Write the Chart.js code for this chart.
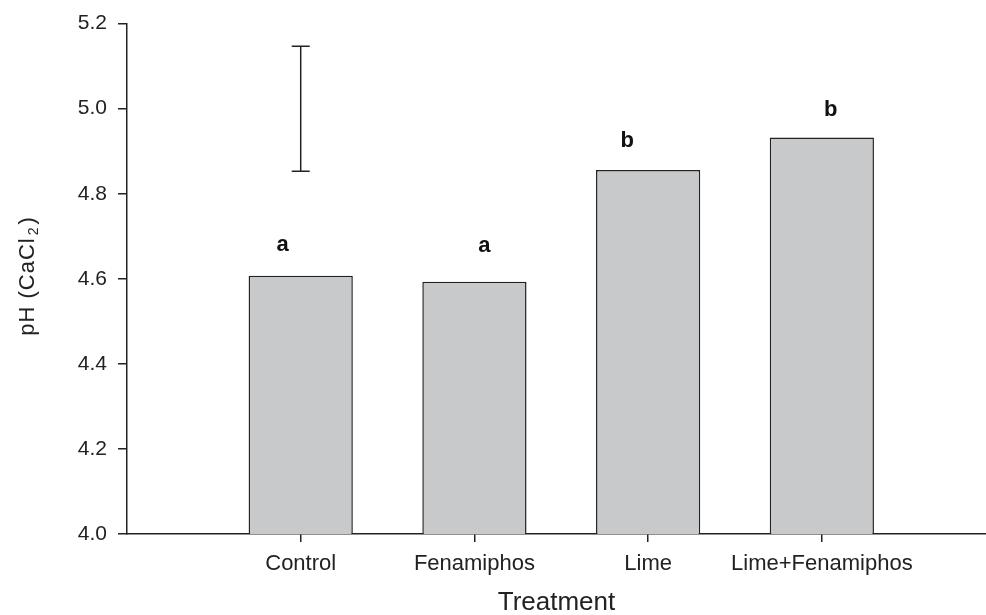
<!DOCTYPE html>
<html>
<head>
<meta charset="utf-8">
<script src="https://cdn.jsdelivr.net/npm/chart.js@4.4.1/dist/chart.umd.min.js"></script>
<style>
  html, body { margin: 0; padding: 0; background: #fff; }
  #wrap { width: 986px; height: 615px; position: relative; }
</style>
</head>
<body>
<div id="wrap"><canvas id="phChart"></canvas></div>
<script>
// treatments and mean soil pH
const treatments = ['Control', 'Fenamiphos', 'Lime', 'Lime+Fenamiphos'];
const phValues = [4.607, 4.593, 4.856, 4.932];
const letters = ['a', 'a', 'b', 'b'];
// LSD bar drawn over the Control position
const lsdBar = [4.853, 5.147];
const yTickValues = [4.0, 4.2, 4.4, 4.6, 4.8, 5.0, 5.2];
const xTickValues = [1, 2, 3, 4];

const ink = '#222';
const fontFam = '"Liberation Sans", Arial, Helvetica, sans-serif';
// the letters are not centred on the bars in the original
const letterNudgeX = [-18, 10, -21, 9];
const letterNudgeY = [-31, -36, -29, -28];

// letters above bars + LSD bar + y title with subscript
const extras = {
    id: 'extras',
    afterDatasetsDraw(chart) {
        const ctx = chart.ctx;
        const xs = chart.scales.x, ys = chart.scales.y;
        ctx.save();
        ctx.fillStyle = '#111';
        ctx.font = 'bold 22px ' + fontFam;
        ctx.textAlign = 'center';
        ctx.textBaseline = 'middle';
        chart.getDatasetMeta(0).data.forEach((bar, i) => {
            ctx.fillText(letters[i], bar.x + letterNudgeX[i], bar.y + letterNudgeY[i]);
        });

        const bx = xs.getPixelForValue(1);
        const y1 = ys.getPixelForValue(lsdBar[0]);
        const y2 = ys.getPixelForValue(lsdBar[1]);
        ctx.strokeStyle = ink;
        ctx.lineWidth = 1.5;
        ctx.beginPath();
        ctx.moveTo(bx, y1); ctx.lineTo(bx, y2);
        ctx.moveTo(bx - 9, y1); ctx.lineTo(bx + 9, y1);
        ctx.moveTo(bx - 9, y2); ctx.lineTo(bx + 9, y2);
        ctx.stroke();

        // y axis title: pH (CaCl2)
        ctx.translate(34, 276);
        ctx.rotate(-Math.PI / 2);
        ctx.fillStyle = ink;
        ctx.textAlign = 'left';
        ctx.textBaseline = 'alphabetic';
        ctx.letterSpacing = '1px';
        const main = 'pH (CaCl';
        ctx.font = '22px ' + fontFam;
        const wMain = ctx.measureText(main).width;
        ctx.font = '14px ' + fontFam;
        const wSub = ctx.measureText('2').width;
        ctx.font = '22px ' + fontFam;
        const wEnd = ctx.measureText(')').width;
        let x0 = -(wMain + wSub + wEnd + 4) / 2;
        ctx.fillText(main, x0, 0);
        x0 += wMain + 2;
        ctx.font = '14px ' + fontFam;
        ctx.fillText('2', x0, 4);
        x0 += wSub + 2;
        ctx.font = '22px ' + fontFam;
        ctx.fillText(')', x0, 0);
        ctx.restore();
    }
};

new Chart(document.getElementById('phChart'), {
    type: 'bar',
    data: {
        datasets: [{
            data: phValues.map((v, i) => ({ x: xTickValues[i], y: v })),
            backgroundColor: '#c8c9cb',
            borderColor: ink,
            borderWidth: 1.5,
            categoryPercentage: 1,
            barPercentage: 0.6
        }]
    },
    options: {
        responsive: true,
        maintainAspectRatio: false,
        animation: false,
        layout: { padding: { top: 20, right: 0, left: 0, bottom: 0 } },
        plugins: { legend: { display: false }, tooltip: { enabled: false } },
        scales: {
            x: {
                type: 'linear',
                offset: false,
                min: 0,
                max: 4.945,
                afterBuildTicks: (s) => { s.ticks = xTickValues.map(v => ({ value: v })); },
                afterFit: (s) => { s.height = 81; },
                grid: { offset: false, drawOnChartArea: false, color: ink, tickLength: 8, lineWidth: 1.5 },
                border: { color: ink, width: 1.5 },
                ticks: {
                    autoSkip: false,
                    maxRotation: 0,
                    padding: 9,
                    color: ink,
                    font: { family: fontFam, size: 22 },
                    callback: (v) => treatments[v - 1] || ''
                },
                title: {
                    display: true,
                    text: 'Treatment',
                    color: ink,
                    font: { family: fontFam, size: 26, lineHeight: 0.9 },
                    padding: { top: 0, bottom: 0 }
                }
            },
            y: {
                min: 4.0,
                max: 5.2,
                afterBuildTicks: (s) => { s.ticks = yTickValues.map(v => ({ value: v })); },
                afterFit: (s) => { s.width = 127; },
                grid: { drawOnChartArea: false, color: ink, tickLength: 9, lineWidth: 1.5 },
                border: { color: ink, width: 1.5 },
                ticks: {
                    padding: 11,
                    color: ink,
                    font: { family: fontFam, size: 21 },
                    callback: (v) => v.toFixed(1)
                }
            }
        }
    },
    plugins: [extras]
});
</script>
</body>
</html>
